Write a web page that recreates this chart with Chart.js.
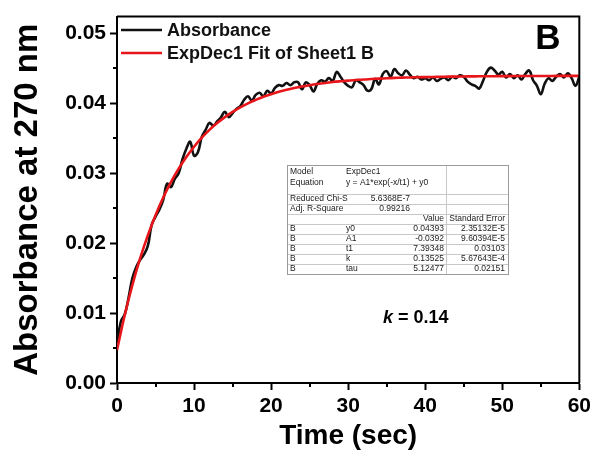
<!DOCTYPE html>
<html><head><meta charset="utf-8">
<script src="https://cdn.jsdelivr.net/npm/chart.js@4"></script>
<style>html,body{margin:0;padding:0;background:#fff}</style>
</head><body>
<canvas id="c" width="595" height="457"></canvas>
<script>
// ---------- data ----------
const timeSec = [
  0,0.5,1,1.5,2,2.5,3,3.5,4,4.5,
  5,5.5,6,6.5,7,7.5,8,8.5,9,9.5,
  10,10.5,11,11.5,12,12.5,13,13.5,14,14.5,
  15,15.5,16,16.5,17,17.5,18,18.5,19,19.5,
  20,20.5,21,21.5,22,22.5,23,23.5,24,24.5,
  25,25.5,26,26.5,27,27.5,28,28.5,29,29.5,
  30,30.5,31,31.5,32,32.5,33,33.5,34,34.5,
  35,35.5,36,36.5,37,37.5,38,38.5,39,39.5,
  40,40.5,41,41.5,42,42.5,43,43.5,44,44.5,
  45,45.5,46,46.5,47,47.5,48,48.5,49,49.5,
  50,50.5,51,51.5,52,52.5,53,53.5,54,54.5,
  55,55.5,56,56.5,57,57.5,58,58.5,59,59.5,
  60
];
const absorbance = [
  0.0055,0.0088,0.0098,0.0122,0.0150,0.0166,0.0176,0.0184,0.0196,0.0226,
  0.0238,0.0248,0.0262,0.0285,0.0280,0.0292,0.0300,0.0320,0.0335,0.0345,
  0.0325,0.0330,0.0352,0.0362,0.0372,0.0368,0.0374,0.0380,0.0388,0.0380,
  0.0386,0.0392,0.0396,0.0405,0.0410,0.0404,0.0412,0.0415,0.0410,0.0418,
  0.0414,0.0422,0.0426,0.0425,0.0429,0.0426,0.0430,0.0430,0.0420,0.0430,
  0.0426,0.0417,0.0428,0.0433,0.0431,0.0436,0.0432,0.0445,0.0438,0.0430,
  0.0425,0.0423,0.0433,0.0430,0.0426,0.0418,0.0420,0.0435,0.0427,0.0442,
  0.0446,0.0438,0.0449,0.0443,0.0440,0.0447,0.0441,0.0436,0.0438,0.0434,
  0.0436,0.0433,0.0437,0.0432,0.0435,0.0437,0.0433,0.0438,0.0436,0.0440,
  0.0438,0.0431,0.0427,0.0425,0.0421,0.0432,0.0445,0.0451,0.0447,0.0441,
  0.0445,0.0437,0.0442,0.0436,0.0440,0.0434,0.0442,0.0447,0.0433,0.0425,
  0.0413,0.0428,0.0436,0.0432,0.0438,0.0442,0.0437,0.0443,0.0436,0.0425,
  0.0438
];
const fitTime = [
  0,1,2,3,4,5,6,7,8,9,10,11,12,13,14,15,16,17,18,19,20,
  21,22,23,24,25,26,27,28,29,30,31,32,33,34,35,36,37,38,39,40,
  41,42,43,44,45,46,47,48,49,50,51,52,53,54,55,56,57,58,59,60
];
const fitAbs = [
  0.00473,0.00969,0.01402,0.01781,0.02111,0.02400,0.02652,0.02872,0.03065,0.03233,0.03379,
  0.03508,0.03620,0.03717,0.03803,0.03877,0.03943,0.04000,0.04049,0.04093,0.04131,
  0.04164,0.04193,0.04218,0.04240,0.04259,0.04276,0.04291,0.04304,0.04315,0.04325,
  0.04333,0.04341,0.04347,0.04353,0.04358,0.04363,0.04367,0.04370,0.04373,0.04375,
  0.04377,0.04379,0.04381,0.04382,0.04384,0.04385,0.04386,0.04387,0.04388,0.04388,
  0.04389,0.04390,0.04390,0.04391,0.04391,0.04391,0.04392,0.04392,0.04392,0.04392
];
const seriesNames = ['Absorbance', 'ExpDec1 Fit of Sheet1 B'];
const xTicks = [0, 10, 20, 30, 40, 50, 60];
const xMinorTicks = [5, 15, 25, 35, 45, 55];
const yTicks = [0, 0.01, 0.02, 0.03, 0.04, 0.05];
const yTickLabels = ['0.00', '0.01', '0.02', '0.03', '0.04', '0.05'];
const yMinorTicks = [0.005, 0.015, 0.025, 0.035, 0.045];
const panelLabel = 'B';
const kText = ['k', ' = 0.14'];
const tableHeader = [['Model', 'ExpDec1'], ['Equation', 'y = A1*exp(-x/t1) + y0']];
const tableStats = [['Reduced Chi-S', '5.6368E-7'], ['Adj. R-Square', '0.99216']];
const tableColumns = ['Value', 'Standard Error'];
const paramSeries = ['B', 'B', 'B', 'B', 'B'];
const paramNames = ['y0', 'A1', 't1', 'k', 'tau'];
const paramValues = ['0.04393', '-0.0392', '7.39348', '0.13525', '5.12477'];
const paramErrors = ['2.35132E-5', '9.60394E-5', '0.03103', '5.67643E-4', '0.02151'];

// ---------- drawing ----------
const FONT = "'Liberation Sans', Arial, Helvetica, sans-serif";
Chart.defaults.font.family = FONT;

const decor = {
  id: 'decor',
  afterDatasetsDraw(chart) {
    const {ctx, chartArea: a, scales: {x, y}} = chart;
    ctx.save();
    // frame top/right
    ctx.strokeStyle = '#000';
    ctx.lineWidth = 2;
    ctx.beginPath();
    ctx.moveTo(a.left, a.top); ctx.lineTo(a.right, a.top); ctx.lineTo(a.right, a.bottom);
    ctx.stroke();
    // minor ticks
    ctx.beginPath();
    xMinorTicks.forEach(v => { const px = Math.round(x.getPixelForValue(v)); ctx.moveTo(px, a.bottom); ctx.lineTo(px, a.bottom + 4); });
    yMinorTicks.forEach(v => { const py = Math.round(y.getPixelForValue(v)); ctx.moveTo(a.left, py); ctx.lineTo(a.left - 4, py); });
    ctx.stroke();

    // legend
    ctx.font = 'bold 18px ' + FONT;
    ctx.textBaseline = 'middle';
    ctx.textAlign = 'left';
    chart.data.datasets.forEach((ds, i) => {
      const ly = 30 + i * 23;
      ctx.strokeStyle = ds.borderColor;
      ctx.lineWidth = 2.6;
      ctx.beginPath(); ctx.moveTo(a.left + 4, ly); ctx.lineTo(a.left + 45, ly); ctx.stroke();
      ctx.fillStyle = '#111';
      ctx.fillText(ds.label, a.left + 50, ly + 1);
    });

    // panel label
    ctx.font = 'bold 35px ' + FONT;
    ctx.textAlign = 'center';
    ctx.fillStyle = '#000';
    ctx.fillText(panelLabel, 548, 39);

    // k = 0.14
    ctx.textAlign = 'left';
    ctx.font = 'italic bold 18px ' + FONT;
    ctx.fillText(kText[0], 383, 318);
    const kw = ctx.measureText(kText[0]).width;
    ctx.font = 'bold 18px ' + FONT;
    ctx.fillText(kText[1], 383 + kw, 318);

    // table
    const L = 287, R = 508, DIV = 446, T = 165;
    const rowY = [172, 183, 199, 209, 219, 229, 239, 249, 259, 269];
    const hl = [194, 204, 214, 224, 234, 244, 254, 264];
    const B = 274;
    ctx.fillStyle = '#fff';
    ctx.fillRect(L, T, R - L, B - T);
    ctx.strokeStyle = '#c8c8c8';
    ctx.lineWidth = 1;
    ctx.beginPath();
    hl.forEach(h => { ctx.moveTo(L, h + 0.5); ctx.lineTo(R, h + 0.5); });
    ctx.moveTo(DIV + 0.5, T); ctx.lineTo(DIV + 0.5, B);
    ctx.stroke();
    ctx.strokeStyle = '#9a9a9a';
    ctx.strokeRect(L + 0.5, T + 0.5, R - L, B - T);

    ctx.font = '8.5px ' + FONT;
    ctx.fillStyle = '#1a1a1a';
    ctx.textBaseline = 'middle';
    ctx.textAlign = 'left';
    tableHeader.forEach((r, i) => { ctx.fillText(r[0], 290, rowY[i]); ctx.fillText(r[1], 346, rowY[i]); });
    tableStats.forEach((r, i) => {
      ctx.textAlign = 'left'; ctx.fillText(r[0], 290, rowY[2 + i]);
      ctx.textAlign = 'right'; ctx.fillText(r[1], 410, rowY[2 + i]);
    });
    ctx.textAlign = 'right';
    ctx.fillText(tableColumns[0], 444, rowY[4]);
    ctx.fillText(tableColumns[1], 505, rowY[4]);
    paramNames.forEach((n, i) => {
      const yy = rowY[5 + i];
      ctx.textAlign = 'left';
      ctx.fillText(paramSeries[i], 290, yy);
      ctx.fillText(n, 346, yy);
      ctx.textAlign = 'right';
      ctx.fillText(paramValues[i], 444, yy);
      ctx.fillText(paramErrors[i], 505, yy);
    });
    ctx.restore();
  }
};

const axisCommon = {
  grid: {drawOnChartArea: false, tickLength: 7, tickWidth: 2, tickColor: '#000'},
  border: {color: '#000', width: 2}
};

new Chart(document.getElementById('c'), {
  type: 'line',
  data: {
    datasets: [
      {label: seriesNames[0], data: timeSec.map((t, i) => ({x: t, y: absorbance[i]})),
       borderColor: '#111', borderWidth: 2.6, pointRadius: 0, tension: 0.4, order: 1},
      {label: seriesNames[1], data: fitTime.map((t, i) => ({x: t, y: fitAbs[i]})),
       borderColor: '#e8161b', borderWidth: 2.6, pointRadius: 0, tension: 0.4, order: 0}
    ]
  },
  options: {
    responsive: false, animation: false, devicePixelRatio: 1,
    layout: {padding: {top: 13, right: 12, left: 0, bottom: 0}},
    plugins: {legend: {display: false}, tooltip: {enabled: false}},
    scales: {
      x: {
        type: 'linear', min: 0, max: 60,
        afterFit(s) { s.height = 74; },
        afterBuildTicks(s) { s.ticks = xTicks.map(v => ({value: v})); },
        ticks: {font: {size: 21, weight: 'bold'}, color: '#000', padding: 4, maxRotation: 0, autoSkip: false},
        ...axisCommon,
        title: {display: true, text: 'Time (sec)', color: '#000', font: {size: 28, weight: 'bold'}, padding: {top: 0, bottom: 4}}
      },
      y: {
        type: 'linear', min: 0, max: 0.0524,
        afterFit(s) { s.width = 117; },
        afterBuildTicks(s) { s.ticks = yTicks.map(v => ({value: v})); },
        ticks: {font: {size: 21, weight: 'bold'}, color: '#000', padding: 4, autoSkip: false,
                callback: (v, i) => yTickLabels[i]},
        ...axisCommon,
        title: {display: true, text: 'Absorbance at 270 nm', color: '#000', font: {size: 33, weight: 'bold'}, padding: {top: 8, bottom: 0}}
      }
    }
  },
  plugins: [decor]
});
</script>
</body></html>
